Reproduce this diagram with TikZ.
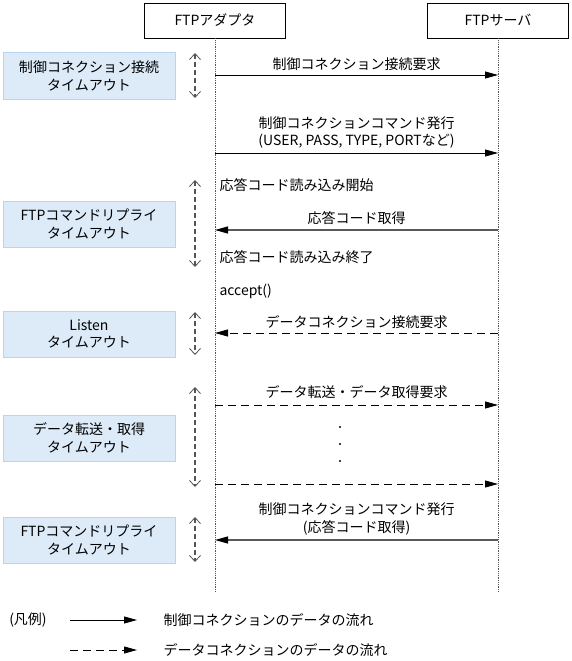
\documentclass[tikz,border=0pt]{standalone}
\usepackage{fontspec}
\setmainfont{Noto Sans CJK JP}
\usetikzlibrary{arrows.meta}
\definecolor{boxfill}{RGB}{221,235,249}
\definecolor{boxline}{RGB}{183,213,242}
\definecolor{gris}{RGB}{85,85,85}

\begin{document}
\begin{tikzpicture}[x=1pt, y=-1pt, font=\fontsize{14}{17.5}\selectfont,
	head/.style={draw, line width=0.8pt, minimum width=141pt, minimum height=35pt, inner sep=0pt},
	toutbox/.style={draw=boxline, line width=1pt, fill=boxfill, minimum width=172pt,
		minimum height=46pt, inner sep=0pt, align=center},
	lifeline/.style={gris, line width=0.8pt, densely dotted},
	toutarrow/.style={gris, line width=1.2pt, dash pattern=on 5pt off 3pt,
		{Straight Barb[length=6pt, width=11pt, line width=0.8pt]}-{Straight Barb[length=6pt, width=11pt, line width=0.8pt]}},
	msg/.style={line width=0.8pt, -{Triangle[length=13pt, width=7pt, black]}},
	datamsg/.style={msg, dash pattern=on 8pt off 5pt},
	retmsg/.style={msg, draw=black!65, line width=1.1pt}]
	\useasboundingbox (0,0) rectangle (572,661);
	
	% lifelines
	\node[head] (ada) at (215,20.5) {FTPアダプタ};
	\node[head] (srv) at (498,20.5) {FTPサーバ};
	\coordinate (adaend) at (215,592);
	\coordinate (srvend) at (498,592);
	\draw[lifeline] (ada) -- (adaend);
	\draw[lifeline] (srv) -- (srvend);
	
	% timeouts
	\node[toutbox] (tc) at (89,76) {制御コネクション接続\\タイムアウト};
	\node[toutbox] (tr1) at (89,224) {FTPコマンドリプライ\\タイムアウト};
	\node[toutbox] (tl) at (89,334) {Listen\\タイムアウト};
	\node[toutbox] (td) at (89,438) {データ転送・取得\\タイムアウト};
	\node[toutbox] (tr2) at (89,540) {FTPコマンドリプライ\\タイムアウト};
	\foreach \n/\ya/\yb in {1/53/98, 2/180/267, 3/312/355, 4/387/487, 5/517/562} {
		\coordinate (t\n u) at (195,\ya);
		\coordinate (t\n d) at (195,\yb);
		\draw[toutarrow] (t\n u) -- (t\n d);
	}
	
	% messages
	\foreach \n/\y in {1/75, 2/153, 3/230, 4/333, 5/405, 6/484, 7/540} {
		\coordinate (a\n) at (215,\y);
		\coordinate (s\n) at (498,\y);
	}
	\draw[msg] (a1) -- node[above=1pt] {制御コネクション接続要求} (s1);
	\draw[msg] (a2) -- node[above=1pt, align=center]
		{制御コネクションコマンド発行\\(USER, PASS, TYPE, PORTなど)} (s2);
	\node[anchor=west] (rdbeg) at (216,185) {応答コード読み込み開始};
	\draw[retmsg] (s3) -- node[above=1pt] {応答コード取得} (a3);
	\node[anchor=west] (rdend) at (216,257) {応答コード読み込み終了};
	\node[anchor=west] (acc) at (216,291) {accept()};
	\draw[datamsg] (s4) -- node[above=1pt] {データコネクション接続要求} (a4);
	\draw[datamsg] (a5) -- node[above=3pt] {データ転送・データ取得要求} (s5);
	\foreach \y in {427,444,461}
		\fill (340,\y) circle (1.1pt);
	\draw[datamsg] (a6) -- (s6);
	\draw[retmsg] (s7) -- node[above=1pt, align=center]
		{制御コネクションコマンド発行\\(応答コード取得)} (a7);
	
	% legend
	\node (leg) at (28,620) {(凡例)};
	\coordinate (l1a) at (70,620);
	\coordinate (l1b) at (137,620);
	\coordinate (l2a) at (70,650);
	\coordinate (l2b) at (137,650);
	\draw[msg] (l1a) -- (l1b);
	\draw[datamsg] (l2a) -- (l2b);
	\node[anchor=west] (leg1) at (160,620) {制御コネクションのデータの流れ};
	\node[anchor=west] (leg2) at (160,650) {データコネクションのデータの流れ};
\end{tikzpicture}
\end{document}
